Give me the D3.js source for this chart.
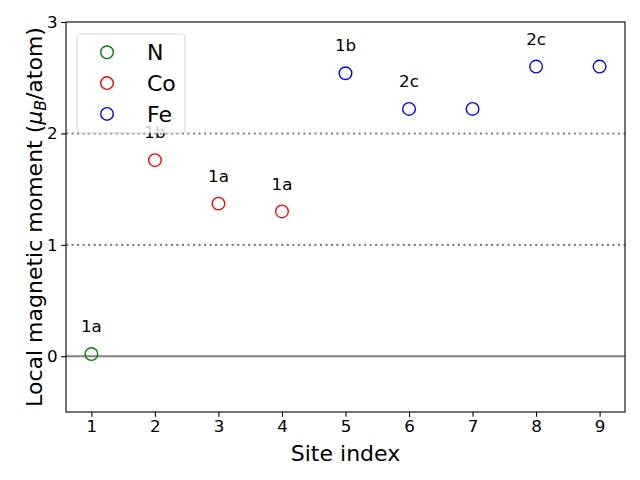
<!DOCTYPE html>
<html>
<head>
<meta charset="utf-8">
<script src="https://cdn.jsdelivr.net/npm/d3@7"></script>
<style>
  html, body { margin: 0; padding: 0; background: #fff; }
  svg { display: block; font-family: "DejaVu Sans", sans-serif; }
</style>
</head>
<body>
<svg id="chart" width="640" height="480"></svg>
<script>
// ---- Data ----
const elements = ["N", "Co", "Fe"];
const elementColors = ["green", "red", "blue"];
const siteIndex = [1, 2, 3, 4, 5, 6, 7, 8, 9];
const siteElement = ["N", "Co", "Co", "Co", "Fe", "Fe", "Fe", "Fe", "Fe"];
const moments = [0.02, 1.76, 1.37, 1.30, 2.54, 2.22, 2.22, 2.60, 2.60];
const siteLabels = ["1a", "1b", "1a", "1a", "1b", "2c", "", "2c", ""];
const xTicks = [1, 2, 3, 4, 5, 6, 7, 8, 9];
const yTicks = [0, 1, 2, 3];
const refLinesDotted = [1, 2];
const refLineSolid = [0];

// ---- Layout ----
const svg = d3.select("#chart");
const L = 66, R = 625, T = 22, B = 412;
const x = d3.scaleLinear().domain([0.6, 9.4]).range([L, R]);
const y = d3.scaleLinear().domain([-0.5, 3]).range([B, T]);
const color = d3.scaleOrdinal().domain(elements).range(elementColors);

// reference lines
svg.selectAll("line.dot").data(refLinesDotted).enter().append("line")
  .attr("x1", L).attr("x2", R).attr("y1", d => y(d)).attr("y2", d => y(d))
  .attr("stroke", "gray").attr("stroke-width", 2.08)
  .attr("stroke-dasharray", "2.08,3.44");
svg.selectAll("line.solid").data(refLineSolid).enter().append("line")
  .attr("x1", L).attr("x2", R).attr("y1", d => y(d)).attr("y2", d => y(d))
  .attr("stroke", "gray").attr("stroke-width", 2.08);

// points
const pts = siteIndex.map((s, i) => ({ s, v: moments[i], el: siteElement[i], lab: siteLabels[i] }));
svg.selectAll("circle.pt").data(pts).enter().append("circle")
  .attr("cx", d => x(d.s)).attr("cy", d => y(d.v)).attr("r", 6.3)
  .attr("fill", "none").attr("stroke", d => color(d.el)).attr("stroke-width", 1.39);

// annotations
svg.selectAll("text.lab").data(pts.filter(d => d.lab)).enter().append("text")
  .attr("x", d => x(d.s)).attr("y", d => y(d.v + 0.25))
  .attr("text-anchor", "middle").attr("dy", "0.36em")
  .attr("font-size", 16.7).attr("fill", "#000").text(d => d.lab);

// axes
const xAxis = svg.append("g").attr("transform", `translate(0,${B})`)
  .call(d3.axisBottom(x).tickValues(xTicks).tickSize(4.86).tickPadding(3.5).tickFormat(d3.format("d")));
const yAxis = svg.append("g").attr("transform", `translate(${L},0)`)
  .call(d3.axisLeft(y).tickValues(yTicks).tickSize(4.86).tickPadding(3.5).tickFormat(d3.format("d")));
[xAxis, yAxis].forEach(g => {
  g.selectAll("text").attr("font-size", 16.7).attr("font-family", "DejaVu Sans").attr("fill", "#000");
  g.selectAll("line").attr("stroke", "#000").attr("stroke-width", 1.1);
  g.select(".domain").remove();
});

// frame
svg.append("rect").attr("x", L).attr("y", T).attr("width", R - L).attr("height", B - T)
  .attr("fill", "none").attr("stroke", "#000").attr("stroke-width", 1.1);

// axis labels
svg.append("text").attr("x", (L + R) / 2).attr("y", 461).attr("text-anchor", "middle")
  .attr("font-size", 22).text("Site index");
const yl = svg.append("text").attr("transform", `translate(42,${(T + B) / 2}) rotate(-90)`)
  .attr("text-anchor", "middle").attr("font-size", 22);
yl.append("tspan").text("Local magnetic moment (");
yl.append("tspan").attr("font-style", "italic").text("μ");
yl.append("tspan").attr("font-style", "italic").attr("font-size", 15.5).attr("dy", 3.5).text("B");
yl.append("tspan").attr("dy", -3.5).text("/atom)");

// legend
const lg = svg.append("g");
lg.append("rect").attr("x", 77).attr("y", 34).attr("width", 108).attr("height", 99)
  .attr("rx", 4).attr("fill", "#fff").attr("fill-opacity", 0.8)
  .attr("stroke", "#cccccc").attr("stroke-opacity", 0.8).attr("stroke-width", 1.1);
const rows = lg.selectAll("g.row").data(elements).enter().append("g")
  .attr("transform", (d, i) => `translate(0,${52.3 + i * 30.8})`);
rows.append("circle").attr("cx", 107).attr("cy", 0).attr("r", 6.3)
  .attr("fill", "none").attr("stroke", d => color(d)).attr("stroke-width", 1.39);
rows.append("text").attr("x", 147).attr("y", 0).attr("dy", "0.36em")
  .attr("font-size", 22).text(d => d);
</script>
</body>
</html>
